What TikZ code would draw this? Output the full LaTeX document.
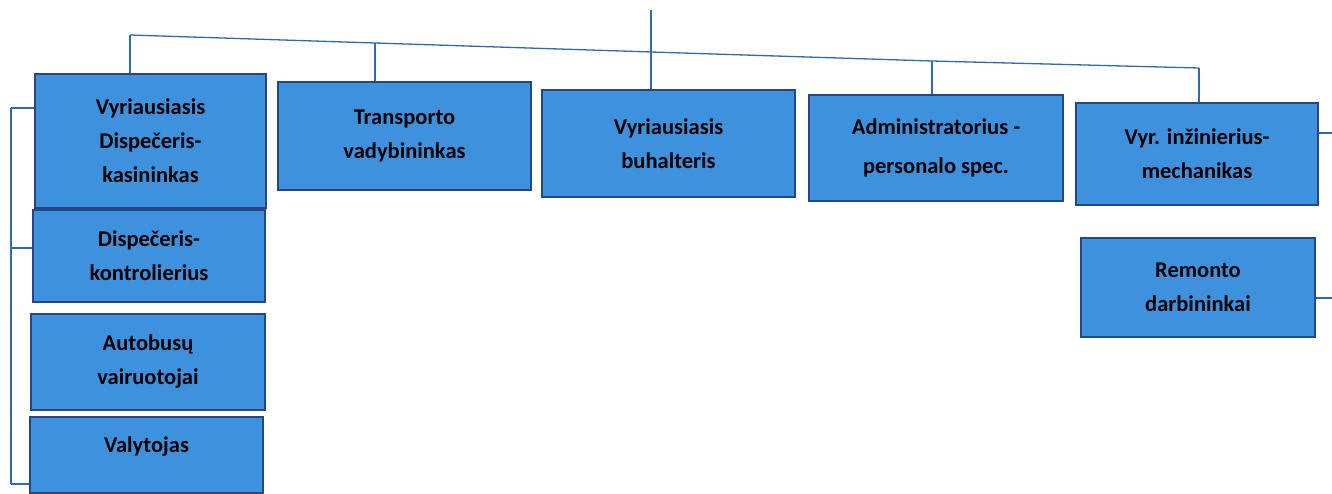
\documentclass[tikz,border=0pt]{standalone}
\usepackage{fontspec}
\setmainfont{Carlito}
\usepackage{tikz}
\definecolor{boxfill}{RGB}{62,145,221}
\definecolor{boxline}{RGB}{40,70,135}
\definecolor{linkline}{RGB}{47,105,178}
\tikzstyle{post} = [rectangle, draw=boxline, line width=2pt, fill=boxfill, align=center, inner sep=0.5ex, font=\fontsize{22.5}{34}\selectfont\bfseries]
\tikzstyle{link} = [draw=linkline, line width=1.3pt]

\begin{document}
\begin{tikzpicture}[x=1pt,y=-1pt]
                        \useasboundingbox (0,0) rectangle (1332,494);
                        \node[post, minimum width=231, minimum height=134]
                            (vyrdisp) at (150.5,141) {Vyriausiasis \\ Dispečeris- \\ kasininkas};
                        \node[post, minimum width=232, minimum height=92]
                            (dispkontr) at (149,256) {Dispečeris- \\ kontrolierius};
                        \node[post, minimum width=234, minimum height=96]
                            (autob) at (148,362) {Autobusų \\ vairuotojai};
                        \node[post, minimum width=233, minimum height=76, text depth=20pt]
                            (valyt) at (146.5,455) {Valytojas};
                        \node[post, minimum width=253, minimum height=108]
                            (transp) at (404.5,136) {Transporto \\ vadybininkas};
                        \node[post, minimum width=253, minimum height=107]
                            (buhalt) at (668.5,143.5) {Vyriausiasis \\ buhalteris};
                        \node[post, minimum width=254, minimum height=106]
                            (admin) at (936,148) {Administratorius - \\[5pt] personalo spec.};
                        \node[post, minimum width=242, minimum height=102]
                            (vyrinz) at (1197,154) {Vyr. inžinierius- \\ mechanikas};
                        \node[post, minimum width=234, minimum height=99]
                            (remont) at (1198,287.5) {Remonto \\ darbininkai};
                        \coordinate (root) at (651,10);
                        \coordinate (j1) at (130,35);
                        \coordinate (j2) at (375,43);
                        \coordinate (j3) at (651,52);
                        \coordinate (j4) at (932,61);
                        \coordinate (j5) at (1199,68);
                        \coordinate (l1) at (11,108);
                        \coordinate (l2) at (11,248);
                        \coordinate (l4) at (11,484);
                        \coordinate (r1) at (1332,133);
                        \coordinate (r2) at (1332,298);
                        \draw[link] (root) -- (j3);
                        \draw[link] (j1) -- (j2) -- (j3) -- (j4) -- (j5);
                        \draw[link] (j1) -- (j1 |- vyrdisp.north);
                        \draw[link] (j2) -- (j2 |- transp.north);
                        \draw[link] (j3) -- (j3 |- buhalt.north);
                        \draw[link] (j4) -- (j4 |- admin.north);
                        \draw[link] (j5) -- (j5 |- vyrinz.north);
                        \draw[link] (l1) -- (l4);
                        \draw[link] (l1) -- (l1 -| vyrdisp.west);
                        \draw[link] (l2) -- (l2 -| dispkontr.west);
                        \draw[link] (l4) -- (l4 -| valyt.west);
                        \draw[link] (r1 -| vyrinz.east) -- (r1);
                        \draw[link] (r2 -| remont.east) -- (r2);
                    \end{tikzpicture}
\end{document}
